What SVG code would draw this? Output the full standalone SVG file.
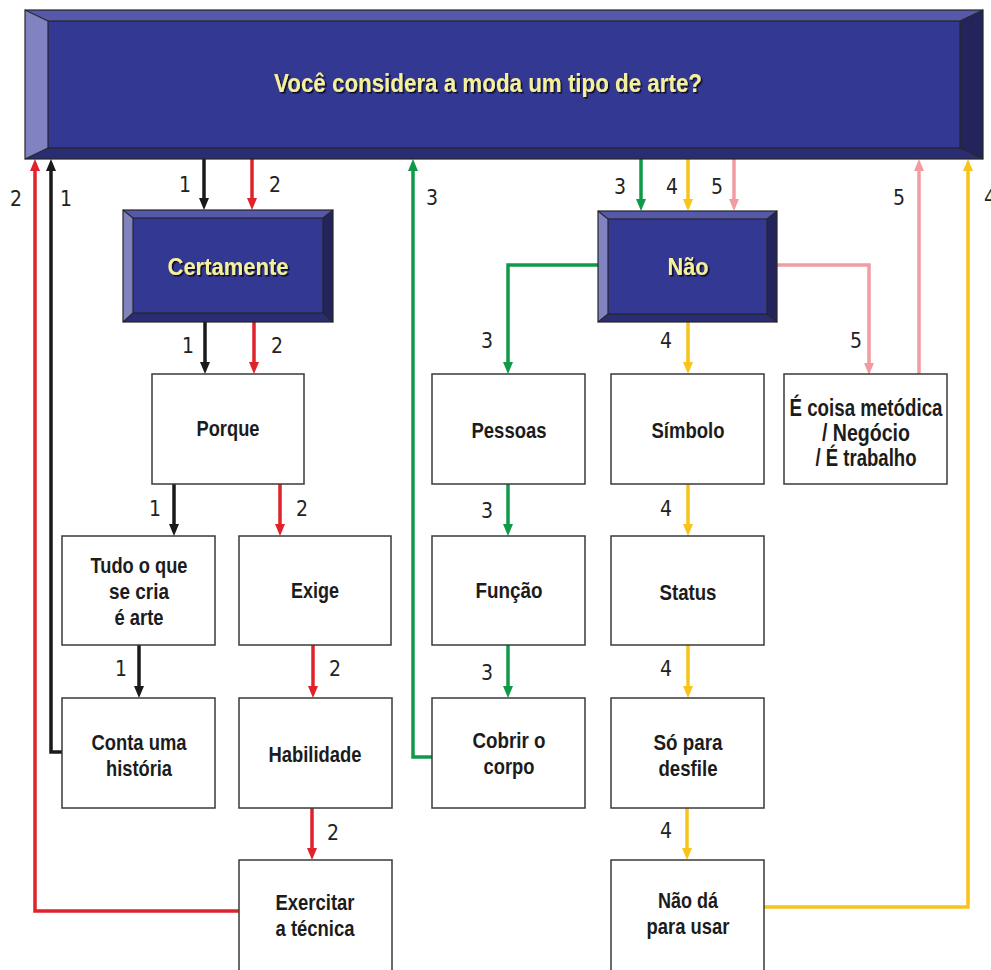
<svg xmlns="http://www.w3.org/2000/svg" width="991" height="970" viewBox="0 0 991 970">
  <defs>
    <style>
      .box { fill: #ffffff; stroke: #3a3a3a; stroke-width: 1.5; }
      .lbl { font-family: "Liberation Sans", Arial, sans-serif; font-weight: bold; font-size: 22px; fill: #1c1c1c; text-anchor: middle; }
      .big { font-size: 23px; }
      .head { font-family: "Liberation Sans", Arial, sans-serif; font-weight: bold; fill: #f4f09c; text-anchor: middle; filter: url(#shadow); }
      .num { font-family: "DejaVu Sans", "Liberation Sans", sans-serif; font-stretch: condensed; font-size: 21px; fill: #222222; text-anchor: middle; }
      .edge { fill: none; stroke-width: 3.5; stroke-linejoin: miter; }
      .k { stroke: #1a1a1a; }
      .r { stroke: #e0232a; }
      .g { stroke: #0f9a48; }
      .y { stroke: #f8c41a; }
      .p { stroke: #f29ca2; }
      .bevel-out { fill: none; stroke: #262626; stroke-width: 1.2; }
    </style>
    <filter id="shadow" x="-10%" y="-30%" width="120%" height="160%">
      <feDropShadow dx="1.6" dy="1.6" stdDeviation="0.4" flood-color="#111122" flood-opacity="1"/>
    </filter>
    <marker id="ak" viewBox="0 0 12 10" refX="6" refY="5" markerWidth="12" markerHeight="10" markerUnits="userSpaceOnUse" orient="auto"><path d="M0,0 L12,5 L0,10 z" fill="#1a1a1a"/></marker>
    <marker id="ar" viewBox="0 0 12 10" refX="6" refY="5" markerWidth="12" markerHeight="10" markerUnits="userSpaceOnUse" orient="auto"><path d="M0,0 L12,5 L0,10 z" fill="#e0232a"/></marker>
    <marker id="ag" viewBox="0 0 12 10" refX="6" refY="5" markerWidth="12" markerHeight="10" markerUnits="userSpaceOnUse" orient="auto"><path d="M0,0 L12,5 L0,10 z" fill="#0f9a48"/></marker>
    <marker id="ay" viewBox="0 0 12 10" refX="6" refY="5" markerWidth="12" markerHeight="10" markerUnits="userSpaceOnUse" orient="auto"><path d="M0,0 L12,5 L0,10 z" fill="#f8c41a"/></marker>
    <marker id="ap" viewBox="0 0 12 10" refX="6" refY="5" markerWidth="12" markerHeight="10" markerUnits="userSpaceOnUse" orient="auto"><path d="M0,0 L12,5 L0,10 z" fill="#f29ca2"/></marker>
  </defs>

  <rect width="991" height="970" fill="#ffffff"/>

  <!-- connectors -->
  <g id="connectors">
    <!-- path 1 (black) -->
    <path class="edge k" d="M204,159 V204" marker-end="url(#ak)"/>
    <path class="edge k" d="M205,322 V368" marker-end="url(#ak)"/>
    <path class="edge k" d="M174,484 V530" marker-end="url(#ak)"/>
    <path class="edge k" d="M139,645 V692" marker-end="url(#ak)"/>
    <path class="edge k" d="M62,752 H51 V165" marker-end="url(#ak)"/>
    <!-- path 2 (red) -->
    <path class="edge r" d="M252,159 V204" marker-end="url(#ar)"/>
    <path class="edge r" d="M254,322 V368" marker-end="url(#ar)"/>
    <path class="edge r" d="M280,484 V530" marker-end="url(#ar)"/>
    <path class="edge r" d="M313,645 V692" marker-end="url(#ar)"/>
    <path class="edge r" d="M312,808 V854" marker-end="url(#ar)"/>
    <path class="edge r" d="M239,911 H35 V165" marker-end="url(#ar)"/>
    <!-- path 3 (green) -->
    <path class="edge g" d="M641,159 V205" marker-end="url(#ag)"/>
    <path class="edge g" d="M598,265 H508 V368" marker-end="url(#ag)"/>
    <path class="edge g" d="M508,484 V530" marker-end="url(#ag)"/>
    <path class="edge g" d="M508,645 V692" marker-end="url(#ag)"/>
    <path class="edge g" d="M432,757 H413 V165" marker-end="url(#ag)"/>
    <!-- path 4 (yellow) -->
    <path class="edge y" d="M688,159 V205" marker-end="url(#ay)"/>
    <path class="edge y" d="M688,322 V368" marker-end="url(#ay)"/>
    <path class="edge y" d="M688,484 V530" marker-end="url(#ay)"/>
    <path class="edge y" d="M688,645 V692" marker-end="url(#ay)"/>
    <path class="edge y" d="M687,808 V854" marker-end="url(#ay)"/>
    <path class="edge y" d="M764,907 H968 V165" marker-end="url(#ay)"/>
    <!-- path 5 (pink) -->
    <path class="edge p" d="M734,159 V205" marker-end="url(#ap)"/>
    <path class="edge p" d="M777,265 H869 V369" marker-end="url(#ap)"/>
    <path class="edge p" d="M919,374 V165" marker-end="url(#ap)"/>

    <!-- route numbers -->
    <text class="num" x="185" y="192">1</text>
    <text class="num" x="275" y="192">2</text>
    <text class="num" x="16" y="206">2</text>
    <text class="num" x="66" y="206">1</text>
    <text class="num" x="432" y="205">3</text>
    <text class="num" x="620" y="194">3</text>
    <text class="num" x="672" y="194">4</text>
    <text class="num" x="717" y="194">5</text>
    <text class="num" x="899" y="205">5</text>
    <text class="num" x="990" y="205">4</text>
    <text class="num" x="188" y="353">1</text>
    <text class="num" x="277" y="353">2</text>
    <text class="num" x="487" y="348">3</text>
    <text class="num" x="666" y="348">4</text>
    <text class="num" x="856" y="348">5</text>
    <text class="num" x="155" y="516">1</text>
    <text class="num" x="302" y="516">2</text>
    <text class="num" x="487" y="518">3</text>
    <text class="num" x="666" y="516">4</text>
    <text class="num" x="121" y="676">1</text>
    <text class="num" x="335" y="676">2</text>
    <text class="num" x="487" y="680">3</text>
    <text class="num" x="666" y="676">4</text>
    <text class="num" x="333" y="840">2</text>
    <text class="num" x="666" y="838">4</text>
  </g>

  <!-- question header -->
  <g id="question">
    <polygon points="25,10 983,10 960,21 48,21" fill="#5658aa"/>
    <polygon points="25,10 48,21 48,148 25,159" fill="#8182c0"/>
    <polygon points="983,10 983,159 960,148 960,21" fill="#23245c"/>
    <polygon points="25,159 48,148 960,148 983,159" fill="#2b2d73"/>
    <rect x="48" y="21" width="912" height="127" fill="#333893"/>
    <rect class="bevel-out" x="25" y="10" width="958" height="149"/>
    <rect class="bevel-out" x="48" y="21" width="912" height="127"/>
    <path class="bevel-out" d="M25,10 L48,21 M983,10 L960,21 M25,159 L48,148 M983,159 L960,148"/>
    <text class="head" x="488" y="92" font-size="25" textLength="428" lengthAdjust="spacingAndGlyphs">Você considera a moda um tipo de arte?</text>
  </g>

  <g id="certamente">
    <polygon points="123,210 333,210 323,218 133,218" fill="#5658aa"/>
    <polygon points="123,210 133,218 133,313 123,322" fill="#8182c0"/>
    <polygon points="333,210 333,322 323,313 323,218" fill="#23245c"/>
    <polygon points="123,322 133,313 323,313 333,322" fill="#2b2d73"/>
    <rect x="133" y="218" width="190" height="95" fill="#333893"/>
    <rect class="bevel-out" x="123" y="210" width="210" height="112"/>
    <rect class="bevel-out" x="133" y="218" width="190" height="95"/>
    <path class="bevel-out" d="M123,210 L133,218 M333,210 L323,218 M123,322 L133,313 M333,322 L323,313"/>
    <text class="head" x="228" y="275" font-size="24" textLength="121" lengthAdjust="spacingAndGlyphs">Certamente</text>
  </g>

  <g id="nao">
    <polygon points="598,211 777,211 767,219 608,219" fill="#5658aa"/>
    <polygon points="598,211 608,219 608,314 598,322" fill="#8182c0"/>
    <polygon points="777,211 777,322 767,314 767,219" fill="#23245c"/>
    <polygon points="598,322 608,314 767,314 777,322" fill="#2b2d73"/>
    <rect x="608" y="219" width="159" height="95" fill="#333893"/>
    <rect class="bevel-out" x="598" y="211" width="179" height="111"/>
    <rect class="bevel-out" x="608" y="219" width="159" height="95"/>
    <path class="bevel-out" d="M598,211 L608,219 M777,211 L767,219 M598,322 L608,314 M777,322 L767,314"/>
    <text class="head" x="688" y="275" font-size="24" textLength="41" lengthAdjust="spacingAndGlyphs">Não</text>
  </g>

  <g id="porque">
    <rect class="box" x="152" y="374" width="152" height="110"/>
    <text class="lbl" x="228" y="436" textLength="63" lengthAdjust="spacingAndGlyphs">Porque</text>
  </g>

  <g id="tudo">
    <rect class="box" x="62" y="536" width="153" height="109"/>
    <text class="lbl" x="139" y="573" textLength="97" lengthAdjust="spacingAndGlyphs">Tudo o que</text>
    <text class="lbl" x="139" y="599" textLength="60" lengthAdjust="spacingAndGlyphs">se cria</text>
    <text class="lbl" x="139" y="625" textLength="49" lengthAdjust="spacingAndGlyphs">é arte</text>
  </g>

  <g id="exige">
    <rect class="box" x="239" y="536" width="152" height="109"/>
    <text class="lbl" x="315" y="598" textLength="48" lengthAdjust="spacingAndGlyphs">Exige</text>
  </g>

  <g id="conta">
    <rect class="box" x="62" y="698" width="153" height="110"/>
    <text class="lbl" x="139" y="750" textLength="95" lengthAdjust="spacingAndGlyphs">Conta uma</text>
    <text class="lbl" x="139" y="776" textLength="66" lengthAdjust="spacingAndGlyphs">história</text>
  </g>

  <g id="habilidade">
    <rect class="box" x="239" y="698" width="153" height="110"/>
    <text class="lbl" x="315" y="762" textLength="93" lengthAdjust="spacingAndGlyphs">Habilidade</text>
  </g>

  <g id="exercitar">
    <rect class="box" x="239" y="860" width="153" height="112"/>
    <text class="lbl" x="315" y="910" textLength="79" lengthAdjust="spacingAndGlyphs">Exercitar</text>
    <text class="lbl" x="315" y="936" textLength="79" lengthAdjust="spacingAndGlyphs">a técnica</text>
  </g>

  <g id="pessoas">
    <rect class="box" x="432" y="374" width="153" height="110"/>
    <text class="lbl" x="509" y="438" textLength="75" lengthAdjust="spacingAndGlyphs">Pessoas</text>
  </g>

  <g id="funcao">
    <rect class="box" x="432" y="536" width="153" height="109"/>
    <text class="lbl" x="509" y="598" textLength="67" lengthAdjust="spacingAndGlyphs">Função</text>
  </g>

  <g id="cobrir">
    <rect class="box" x="432" y="698" width="153" height="110"/>
    <text class="lbl" x="509" y="748" textLength="73" lengthAdjust="spacingAndGlyphs">Cobrir o</text>
    <text class="lbl" x="509" y="774" textLength="51" lengthAdjust="spacingAndGlyphs">corpo</text>
  </g>

  <g id="simbolo">
    <rect class="box" x="611" y="374" width="153" height="110"/>
    <text class="lbl" x="688" y="438" textLength="73" lengthAdjust="spacingAndGlyphs">Símbolo</text>
  </g>

  <g id="status">
    <rect class="box" x="611" y="536" width="153" height="109"/>
    <text class="lbl" x="688" y="600" textLength="57" lengthAdjust="spacingAndGlyphs">Status</text>
  </g>

  <g id="desfile">
    <rect class="box" x="611" y="698" width="153" height="110"/>
    <text class="lbl" x="688" y="750" textLength="69" lengthAdjust="spacingAndGlyphs">Só para</text>
    <text class="lbl" x="688" y="776" textLength="59" lengthAdjust="spacingAndGlyphs">desfile</text>
  </g>

  <g id="nao-da">
    <rect class="box" x="611" y="860" width="153" height="112"/>
    <text class="lbl" x="688" y="908" textLength="60" lengthAdjust="spacingAndGlyphs">Não dá</text>
    <text class="lbl" x="688" y="934" textLength="83" lengthAdjust="spacingAndGlyphs">para usar</text>
  </g>

  <g id="metodica">
    <rect class="box" x="784" y="374" width="163" height="110"/>
    <text class="lbl big" x="866" y="416" textLength="153" lengthAdjust="spacingAndGlyphs">É coisa metódica</text>
    <text class="lbl big" x="866" y="441" textLength="88" lengthAdjust="spacingAndGlyphs">/ Negócio</text>
    <text class="lbl big" x="866" y="466" textLength="101" lengthAdjust="spacingAndGlyphs">/ É trabalho</text>
  </g>
</svg>
